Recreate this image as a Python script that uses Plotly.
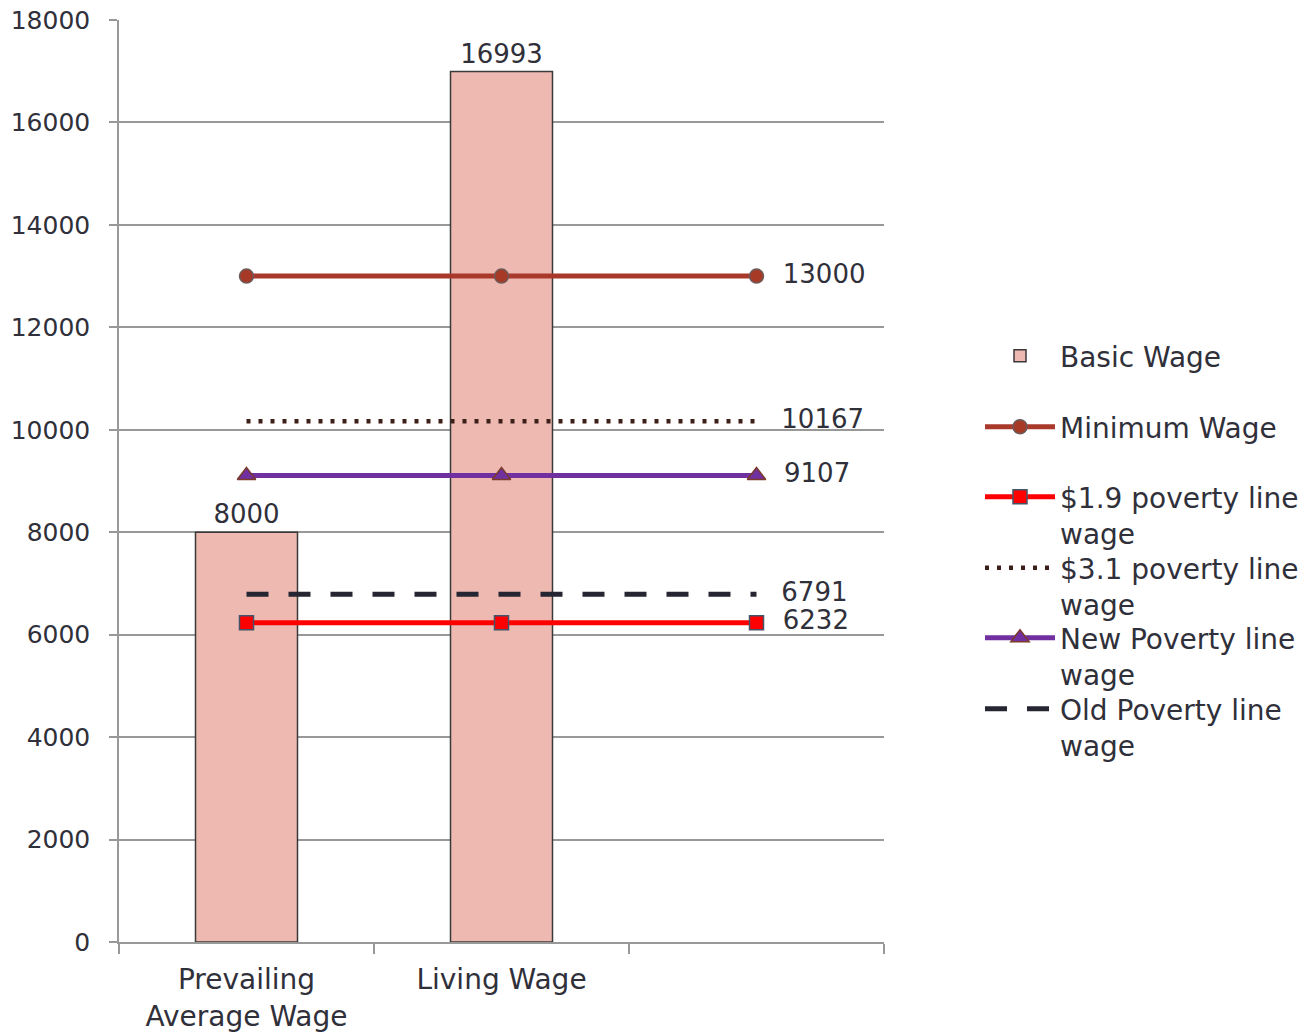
import plotly.graph_objects as go

categories = ["Prevailing<br>Average Wage", "Living Wage", " "]
bar_categories = categories[:2]
basic_wage = [8000, 16993]
minimum_wage = [13000, 13000, 13000]
poverty_19 = [6232, 6232, 6232]
poverty_31 = [10167, 10167, 10167]
new_poverty = [9107, 9107, 9107]
old_poverty = [6791, 6791, 6791]

FONT = "DejaVu Sans, Liberation Sans, Arial, sans-serif"
TXT = "#30303a"
GRID = "#989898"
NB = "\u00a0"


def end_label(vals, pad):
    return [""] * (len(vals) - 1) + [NB * pad + str(vals[-1])]


lbl_font = dict(size=26, color=TXT, family=FONT)

fig = go.Figure()
fig.add_trace(go.Bar(
    x=bar_categories, y=basic_wage, name="Basic Wage", width=0.4, legend="legend",
    marker=dict(color="#EDB9B0", line=dict(color="#3a3a3a", width=1.5)),
    text=[str(v) for v in basic_wage], textposition="outside",
    textfont=lbl_font, cliponaxis=False,
))
fig.add_trace(go.Scatter(
    x=categories, y=minimum_wage, name="Minimum Wage", mode="lines+markers+text",
    legend="legend2",
    line=dict(color="#A9392A", width=5),
    marker=dict(symbol="circle", size=14, color="#A63A26", line=dict(color="#6e5a5a", width=1.5)),
    text=end_label(minimum_wage, 2), textposition="middle right",
    textfont=lbl_font, cliponaxis=False,
))
fig.add_trace(go.Scatter(
    x=categories, y=poverty_19, name="$1.9 poverty line<br>wage", mode="lines+markers+text",
    legend="legend3",
    line=dict(color="#FF0000", width=5),
    marker=dict(symbol="square", size=14, color="#FF0000", line=dict(color="#44546A", width=1.5)),
    text=end_label(poverty_19, 2), textposition="middle right",
    textfont=lbl_font, cliponaxis=False,
))
fig.add_trace(go.Scatter(
    x=categories, y=poverty_31, name="$3.1 poverty line<br>wage", mode="lines+text",
    legend="legend4",
    line=dict(color="#3D1F1A", width=4.5, dash="4px,8px"),
    text=end_label(poverty_31, 3), textposition="middle right",
    textfont=lbl_font, cliponaxis=False,
))
fig.add_trace(go.Scatter(
    x=categories, y=new_poverty, name="New Poverty line<br>wage", mode="lines+markers+text",
    legend="legend5",
    line=dict(color="#7030A0", width=5),
    marker=dict(symbol="triangle-up", size=16, color="#7030A0", line=dict(color="#7b3a2a", width=1.5)),
    text=end_label(new_poverty, 2), textposition="middle right",
    textfont=lbl_font, cliponaxis=False,
))
fig.add_trace(go.Scatter(
    x=categories, y=old_poverty, name="Old Poverty line<br>wage", mode="lines+text",
    legend="legend6",
    line=dict(color="#262632", width=5, dash="22px,20px"),
    text=end_label(old_poverty, 3), textposition="middle right",
    textfont=lbl_font, cliponaxis=False,
))

legend_centers = [357, 428, 498, 569, 639, 710]
legends = {}
for i, c in enumerate(legend_centers):
    key = "legend" if i == 0 else f"legend{i + 1}"
    legends[key] = dict(
        x=(980 - 119) / 765, xanchor="left",
        y=(942 - (c - 26)) / 922, yanchor="top",
        font=dict(size=28, color=TXT, family=FONT),
        itemwidth=70, valign="top", bgcolor="rgba(0,0,0,0)",
    )

fig.update_layout(
    width=1307, height=1034,
    margin=dict(l=119, r=423, t=20, b=92, autoexpand=False),
    paper_bgcolor="white", plot_bgcolor="white",
    font=dict(family=FONT, size=26, color=TXT),
    showlegend=True,
    bargap=0.6,
    **legends,
)
fig.update_xaxes(
    type="category", categoryorder="array", categoryarray=categories,
    range=[-0.5, 2.5], tickson="boundaries", ticks="outside", ticklen=10,
    tickcolor=GRID, tickwidth=1.5, showline=True, linecolor=GRID, linewidth=1.5,
    showgrid=False, tickfont=dict(size=28, color=TXT, family=FONT),
    automargin=False, ticklabelstandoff=12,
)
fig.update_yaxes(
    range=[0, 18000], dtick=2000, tickformat="d", ticks="outside", ticklen=8,
    tickcolor=GRID, tickwidth=1.5, showline=True, linecolor=GRID, linewidth=1.5,
    showgrid=True, gridcolor=GRID, gridwidth=1.5, zeroline=False,
    tickfont=dict(size=25, color=TXT, family=FONT), ticklabelstandoff=14,
    automargin=False,
)

fig.write_html("out.html")
